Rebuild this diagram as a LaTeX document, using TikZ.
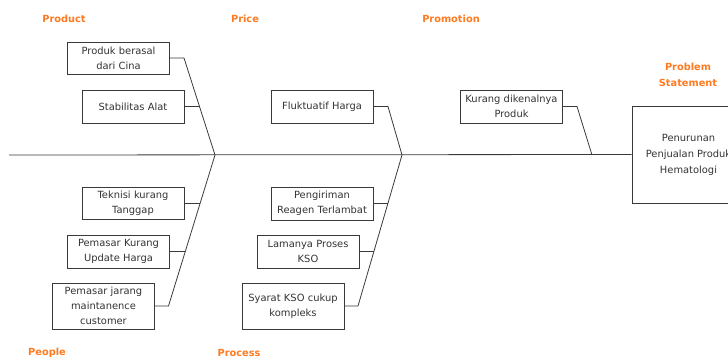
\documentclass[tikz,border=0pt]{standalone}
\usepackage{fontspec}
\setmainfont{DejaVu Sans}
\definecolor{lineg}{HTML}{3A3A3A}
\definecolor{txtg}{HTML}{333333}
\definecolor{org}{HTML}{FF7A1F}
\begin{document}
\begin{tikzpicture}[x=1pt,y=-1pt,
  cause/.style={draw=lineg,line width=0.9pt,fill=white,align=center,text=txtg,
    font=\fontsize{9.9}{15}\selectfont,inner sep=1pt,
    minimum width=#1,text width=#1-4pt},
  cause/.default=102pt,
  catlabel/.style={text=org,font=\fontsize{9.8}{16}\selectfont\bfseries,align=center},
  bone/.style={draw=lineg,line width=0.8pt}]
\useasboundingbox (0,0) rectangle (728,359);
% category labels
\node[catlabel] (lprod) at (64,19) {Product};
\node[catlabel] (lprice) at (245,19) {Price};
\node[catlabel] (lpromo) at (451,19) {Promotion};
\node[catlabel] (lprob) at (688,75) {Problem\\Statement};
\node[catlabel] (lppl) at (47,353) {People};
\node[catlabel] (lproc) at (239,353) {Process};
% problem box
\node[draw=lineg,line width=0.9pt,minimum width=113pt,minimum height=97pt,
  align=center,text=txtg,font=\fontsize{9.9}{16}\selectfont,inner sep=0pt]
  (prob) at (688.5,154.5) {Penurunan\\Penjualan Produk\\Hematologi};
% cause boxes
\node[cause,minimum height=32pt] (prod1) at (118.5,58) {Produk berasal\\dari Cina};
\node[cause,minimum height=33pt] (prod2) at (133,106.5) {Stabilitas Alat};
\node[cause,minimum height=32pt] (ppl1) at (133,203) {Teknisi kurang\\Tanggap};
\node[cause,minimum height=33pt] (ppl2) at (118.5,251.5) {Pemasar Kurang\\Update Harga};
\node[cause,minimum height=46pt] (ppl3) at (103.5,306) {Pemasar jarang\\maintanence\\customer};
\node[cause,minimum height=33pt] (price1) at (322,106.5) {Fluktuatif Harga};
\node[cause,minimum height=33pt] (proc1) at (322,203.5) {Pengiriman\\Reagen Terlambat};
\node[cause,minimum height=33pt] (proc2) at (308,251.5) {Lamanya Proses\\KSO};
\node[cause,minimum height=46pt] (proc3) at (293,306) {Syarat KSO cukup\\kompleks};
\node[cause,minimum height=33pt] (promo1) at (511.5,106.5) {Kurang dikenalnya\\Produk};
% spine
\coordinate (s0) at (9,155);
\coordinate (j1) at (215,155);
\coordinate (j2) at (402,155);
\coordinate (j3) at (592,155);
\draw[bone] (s0) -- (prob.west);
% bone end / tap points
\coordinate (e1) at (184,58);
\coordinate (t1) at (199.5,106.5);
\coordinate (e2) at (168.5,306);
\coordinate (t2a) at (200.2,203);
\coordinate (t2b) at (185.2,251.5);
\coordinate (e3) at (388,106.5);
\coordinate (e4) at (358,306);
\coordinate (t4a) at (387.9,203.5);
\coordinate (t4b) at (373.9,251.5);
\coordinate (e5) at (577,106.5);
% product
\draw[bone] (prod1.east) -- (e1) -- (j1);
\draw[bone] (prod2.east) -- (t1);
% people
\draw[bone] (ppl3.east) -- (e2) -- (j1);
\draw[bone] (ppl1.east) -- (t2a);
\draw[bone] (ppl2.east) -- (t2b);
% price
\draw[bone] (price1.east) -- (e3) -- (j2);
% process
\draw[bone] (proc3.east) -- (e4) -- (j2);
\draw[bone] (proc1.east) -- (t4a);
\draw[bone] (proc2.east) -- (t4b);
% promotion
\draw[bone] (promo1.east) -- (e5) -- (j3);
\end{tikzpicture}
\end{document}
